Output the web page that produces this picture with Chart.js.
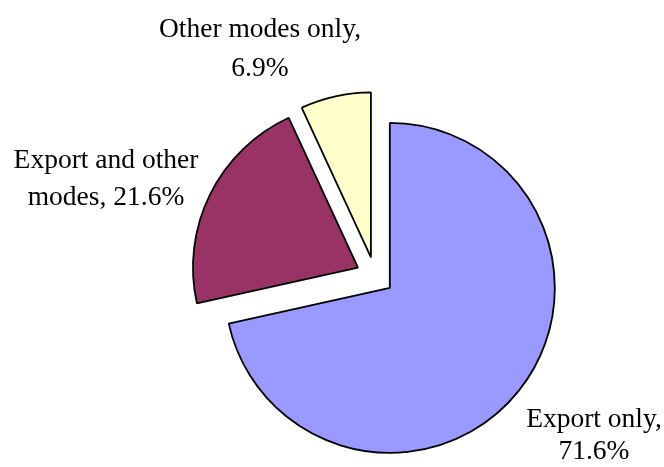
<!DOCTYPE html>
<html>
<head>
<meta charset="utf-8">
<script src="https://cdn.jsdelivr.net/npm/chart.js@4/dist/chart.umd.min.js"></script>
<style>
  html, body { margin: 0; padding: 0; background: #ffffff; }
  #wrap { width: 664px; height: 467px; }
</style>
</head>
<body>
<div id="wrap"><canvas id="c" width="664" height="467"></canvas></div>
<script>
// ---- data ----
const categories = ["Export only", "Export and other modes", "Other modes only"];
const shares = [71.6, 21.6, 6.9];
const labelLines = [
  ["Export only,", "71.6%"],
  ["Export and other", "modes, 21.6%"],
  ["Other modes only,", "6.9%"]
];

// ---- styling ----
const sliceColors = ["#9999FF", "#993366", "#FFFFCC"];
const explode = 76;          // Chart.js arc offset (translation = offset/4)
const pieRadius = 165;
const labelFont = "27.5px 'Liberation Serif', 'Times New Roman', serif";
// label anchor: centre x, baseline of first line, line spacing
const labelAnchors = [
  { x: 594, y: 427, lh: 32 },
  { x: 106, y: 168, lh: 37 },
  { x: 260, y: 37,  lh: 39 }
];

// keep exploded slices at the true radius (Chart.js grows large arcs by offset)
const explodeFix = {
  id: 'explodeFix',
  afterDatasetsUpdate(chart) {
    const meta = chart.getDatasetMeta(0);
    const R = meta.controller.outerRadius;
    meta.data.forEach((el) => {
      const off = explode / 4;
      const c = el.circumference;
      const ro = off * (1 - Math.sin(Math.min(Math.PI, c)));
      el.outerRadius = R - ro;
      const d = ro / Math.PI / R / 2;
      el.startAngle -= d;
      el.endAngle += d;
    });
  }
};

const sliceLabels = {
  id: 'sliceLabels',
  afterDatasetsDraw(chart) {
    const ctx = chart.ctx;
    ctx.save();
    ctx.font = labelFont;
    ctx.fillStyle = '#000000';
    ctx.textAlign = 'center';
    ctx.textBaseline = 'alphabetic';
    labelLines.forEach((lines, i) => {
      const a = labelAnchors[i];
      lines.forEach((t, j) => ctx.fillText(t, a.x, a.y + j * a.lh));
    });
    ctx.restore();
  }
};

new Chart(document.getElementById('c'), {
  type: 'pie',
  data: {
    labels: categories,
    datasets: [{
      data: shares,
      backgroundColor: sliceColors,
      borderColor: '#000000',
      borderWidth: 1.8,
      offset: explode
    }]
  },
  options: {
    responsive: false,
    animation: false,
    events: [],
    radius: pieRadius,
    layout: { padding: { left: 86, top: 85, right: 0, bottom: 0 } },
    plugins: { legend: { display: false }, tooltip: { enabled: false } }
  },
  plugins: [explodeFix, sliceLabels]
});
</script>
</body>
</html>
